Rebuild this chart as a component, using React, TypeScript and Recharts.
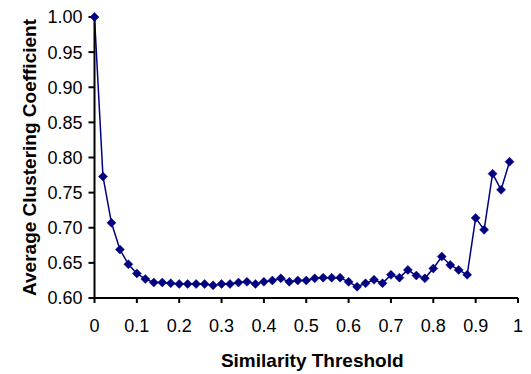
import { LineChart, Line, XAxis, YAxis } from "recharts";

const thresholds = [
  0, 0.02, 0.04, 0.06, 0.08, 0.1, 0.12, 0.14, 0.16, 0.18,
  0.2, 0.22, 0.24, 0.26, 0.28, 0.3, 0.32, 0.34, 0.36, 0.38,
  0.4, 0.42, 0.44, 0.46, 0.48, 0.5, 0.52, 0.54, 0.56, 0.58,
  0.6, 0.62, 0.64, 0.66, 0.68, 0.7, 0.72, 0.74, 0.76, 0.78,
  0.8, 0.82, 0.84, 0.86, 0.88, 0.9, 0.92, 0.94, 0.96, 0.98,
];

const clustering = [
  1.0, 0.773, 0.707, 0.669, 0.648, 0.635, 0.627, 0.622, 0.622, 0.621,
  0.62, 0.62, 0.62, 0.62, 0.618, 0.62, 0.62, 0.622, 0.623, 0.62,
  0.623, 0.625, 0.628, 0.623, 0.625, 0.625, 0.628, 0.629, 0.629, 0.629,
  0.623, 0.616, 0.621, 0.626, 0.621, 0.633, 0.629, 0.64, 0.632, 0.628,
  0.642, 0.659, 0.647, 0.64, 0.633, 0.714, 0.697, 0.777, 0.754, 0.794,
];

const xTicks = [0, 0.1, 0.2, 0.3, 0.4, 0.5, 0.6, 0.7, 0.8, 0.9, 1];
const yTicks = [0.6, 0.65, 0.7, 0.75, 0.8, 0.85, 0.9, 0.95, 1.0];

const data = thresholds.map((t, i) => ({ t, v: clustering[i] }));

const NAVY = "#000080";
const FONT = "'Liberation Sans', Arial, sans-serif";

// diamond marker like the old Excel series
const Diamond = (props: any) => {
  const { cx, cy } = props;
  if (cx == null || cy == null) return null;
  const r = 4.5;
  return (
    <polygon
      points={`${cx},${cy - r} ${cx + r},${cy} ${cx},${cy + r} ${cx - r},${cy}`}
      fill={NAVY}
      stroke={NAVY}
      strokeWidth={0.5}
    />
  );
};

const fmtX = (v: number) => (v === 0 || v === 1 ? String(v) : v.toFixed(1));

export default function App() {
  const tickStyle = { fill: "#000", fontSize: 18, fontFamily: FONT };
  const axisStroke = { stroke: "#000", strokeWidth: 2 };

  return (
    <div style={{ position: "absolute", left: 0, top: 0, background: "#fff" }}>
      <LineChart
        width={531}
        height={374}
        data={data}
        margin={{ top: 17, right: 13, left: 0, bottom: 0 }}
      >
        <XAxis
          dataKey="t"
          type="number"
          domain={[0, 1]}
          ticks={xTicks}
          tickFormatter={fmtX}
          height={76}
          tick={tickStyle}
          tickSize={5}
          tickMargin={16}
          axisLine={axisStroke}
          tickLine={axisStroke}
          label={{
            value: "Similarity Threshold",
            position: "insideBottom",
            offset: 7,
            dx: 6,
            style: { fill: "#000", fontSize: 19, fontWeight: "bold", fontFamily: FONT },
          }}
        />
        <YAxis
          type="number"
          domain={[0.6, 1.0]}
          ticks={yTicks}
          tickFormatter={(v: number) => v.toFixed(2)}
          width={94.5}
          tick={tickStyle}
          tickSize={6}
          tickMargin={6}
          axisLine={axisStroke}
          tickLine={axisStroke}
          label={{
            value: "Average Clustering Coefficient",
            angle: -90,
            position: "insideLeft",
            offset: 29,
            style: {
              fill: "#000",
              fontSize: 19,
              fontWeight: "bold",
              fontFamily: FONT,
              textAnchor: "middle",
            },
          }}
        />
        <Line
          type="linear"
          dataKey="v"
          stroke={NAVY}
          strokeWidth={1.5}
          dot={<Diamond />}
          activeDot={false}
          isAnimationActive={false}
        />
      </LineChart>
    </div>
  );
}
